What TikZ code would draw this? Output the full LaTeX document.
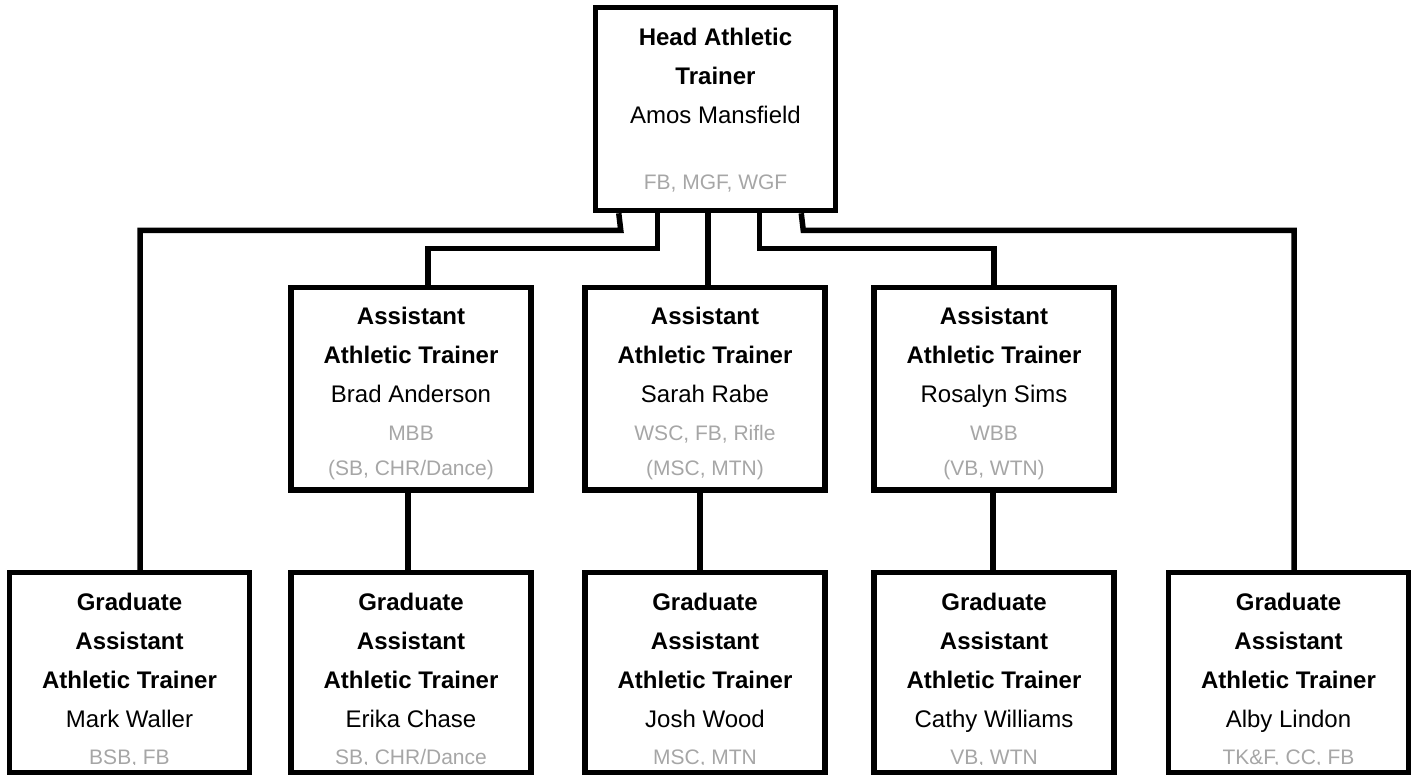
\documentclass[tikz,border=0pt]{standalone}
\usepackage{fontspec}
\setmainfont{Liberation Sans}
\definecolor{sportgray}{HTML}{A6A6A6}
\newcommand{\sport}[1]{{\color{sportgray}\fontsize{21}{35}\selectfont #1}}
\begin{document}
\begin{tikzpicture}[x=1pt,y=-1pt,
    box/.style={draw,line width=5.5pt,rectangle,inner sep=0pt,minimum width=240pt},
    txt/.style={anchor=north,align=center,inner sep=0pt,font=\fontsize{24}{39}\selectfont},
    link/.style={line width=5.5pt}]
    \useasboundingbox (0,0) rectangle (1411,776);

    % Head
    \node[box,minimum height=203pt] (head) at (715.5,109) {};
    \node[txt] (headt) at ([yshift=-23pt]head.north)
        {\textbf{Head Athletic}\\\textbf{Trainer}\\Amos Mansfield\\[27pt]\sport{FB, MGF, WGF}};

    % Assistants
    \node[box,minimum height=202.5pt] (a1) at (411,388.75) {};
    \node[box,minimum height=202.5pt] (a2) at (705,388.75) {};
    \node[box,minimum height=202.5pt] (a3) at (994,388.75) {};
    \node[txt] (a1t) at ([yshift=-22pt]a1.north)
        {\textbf{Assistant}\\\textbf{Athletic Trainer}\\Brad Anderson\\[-1pt]\sport{MBB}\\[-4pt]\sport{(SB, CHR/Dance)}};
    \node[txt] (a2t) at ([yshift=-22pt]a2.north)
        {\textbf{Assistant}\\\textbf{Athletic Trainer}\\Sarah Rabe\\[-1pt]\sport{WSC, FB, Rifle}\\[-4pt]\sport{(MSC, MTN)}};
    \node[txt] (a3t) at ([yshift=-22pt]a3.north)
        {\textbf{Assistant}\\\textbf{Athletic Trainer}\\Rosalyn Sims\\[-1pt]\sport{WBB}\\[-4pt]\sport{(VB, WTN)}};

    % Graduate assistants
    \node[box,minimum height=200pt] (g1) at (129.5,672.5) {};
    \node[box,minimum height=200pt] (g2) at (411,672.5) {};
    \node[box,minimum height=200pt] (g3) at (705,672.5) {};
    \node[box,minimum height=200pt] (g4) at (994,672.5) {};
    \node[box,minimum height=200pt] (g5) at (1288.5,672.5) {};
    \begin{scope}
        \clip (0,0) rectangle (1411,764);
        \node[txt] (g1t) at ([yshift=-23pt]g1.north)
            {\textbf{Graduate}\\\textbf{Assistant}\\\textbf{Athletic Trainer}\\Mark Waller\\[-2pt]\sport{BSB, FB}};
        \node[txt] (g2t) at ([yshift=-23pt]g2.north)
            {\textbf{Graduate}\\\textbf{Assistant}\\\textbf{Athletic Trainer}\\Erika Chase\\[-2pt]\sport{SB, CHR/Dance}};
        \node[txt] (g3t) at ([yshift=-23pt]g3.north)
            {\textbf{Graduate}\\\textbf{Assistant}\\\textbf{Athletic Trainer}\\Josh Wood\\[-2pt]\sport{MSC, MTN}};
        \node[txt] (g4t) at ([yshift=-23pt]g4.north)
            {\textbf{Graduate}\\\textbf{Assistant}\\\textbf{Athletic Trainer}\\Cathy Williams\\[-2pt]\sport{VB, WTN}};
        \node[txt] (g5t) at ([yshift=-23pt]g5.north)
            {\textbf{Graduate}\\\textbf{Assistant}\\\textbf{Athletic Trainer}\\Alby Lindon\\[-2pt]\sport{TK\&F, CC, FB}};
    \end{scope}

    % Links from the head
    \draw[link] ([xshift=26pt]head.south west) -- ++(2,17) -| ([xshift=10.5pt]g1.north);
    \draw[link] ([xshift=64.5pt]head.south west) -- ++(0,35) -| ([xshift=17pt]a1.north);
    \draw[link] ([xshift=3pt]a2.north) -- ([xshift=3pt]a2.north |- head.south);
    \draw[link] ([xshift=166.5pt]head.south west) -- ++(0,35) -| (a3.north);
    \draw[link] ([xshift=208.5pt]head.south west) -- ++(2,17) -| ([xshift=5.5pt]g5.north);

    % Links from the assistants
    \draw[link] ([xshift=-3pt]a1.south) -- ([xshift=-3pt]g2.north);
    \draw[link] ([xshift=-5pt]a2.south) -- ([xshift=-5pt]g3.north);
    \draw[link] ([xshift=-1pt]a3.south) -- ([xshift=-1pt]g4.north);
\end{tikzpicture}
\end{document}
